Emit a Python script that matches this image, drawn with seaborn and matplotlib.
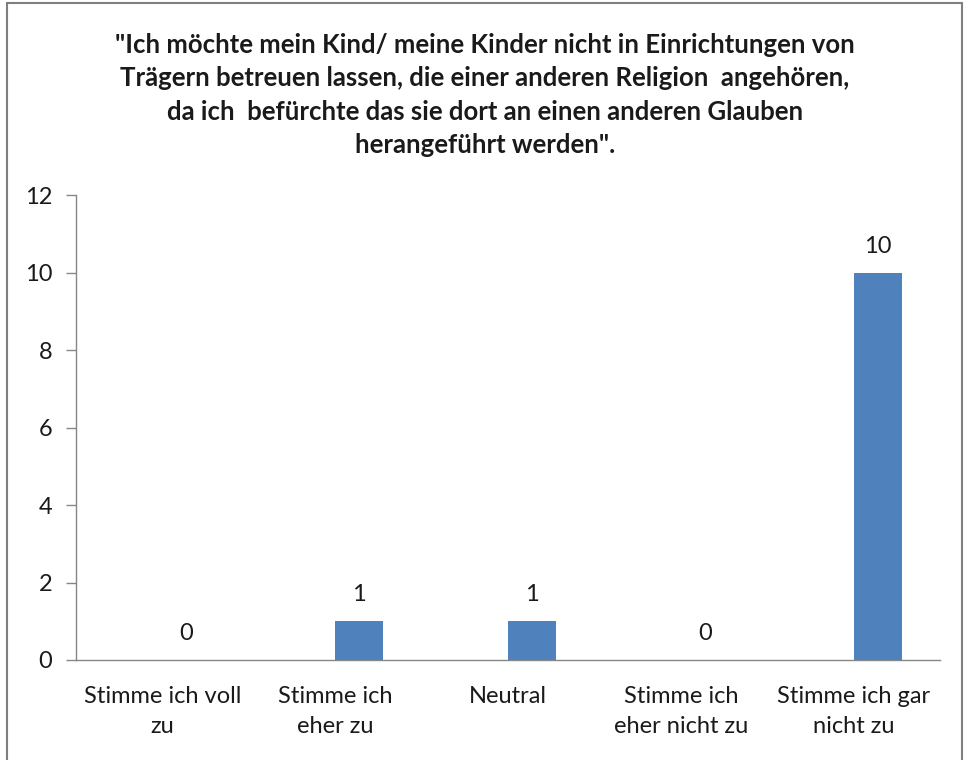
import matplotlib
matplotlib.use("Agg")
import matplotlib.pyplot as plt
import seaborn as sns
import numpy as np
from matplotlib.patches import Rectangle

categories = ["Stimme ich voll\nzu", "Stimme ich\neher zu", "Neutral",
              "Stimme ich\neher nicht zu", "Stimme ich gar\nnicht zu"]
values = [0, 1, 1, 0, 10]
yticks = [0, 2, 4, 6, 8, 10, 12]
title = ('"Ich möchte mein Kind/ meine Kinder nicht in Einrichtungen von\n'
         'Trägern betreuen lassen, die einer anderen Religion  angehören,\n'
         'da ich  befürchte das sie dort an einen anderen Glauben\n'
         'herangeführt werden".')

sns.set_style("white")
plt.rcParams['font.family'] = ['Lato', 'DejaVu Sans']

fig = plt.figure(figsize=(9.7, 7.6), dpi=100)
ax = fig.add_axes([76/970, 1-660/760, (940-76)/970, (660-195)/760])

bw = 48/173
sns.barplot(x=list(range(len(values))), y=values, color="#4F81BD", width=bw,
            saturation=1, ax=ax, native_scale=True, edgecolor="none")
for p in ax.patches:
    p.set_x(p.get_x() + bw/2)

for i, v in enumerate(values):
    ax.annotate(str(v), (i + bw/2, v), xytext=(0, 19), textcoords="offset points",
                ha="center", va="center", fontsize=17, color="#1a1a1a")

ax.set_xlim(-0.5, len(values)-0.5)
ax.set_ylim(0, 12)
ax.set_yticks(yticks)
ax.set_yticklabels([str(t) for t in yticks], fontsize=17, color="#1a1a1a")
ax.set_xticks(range(len(values)))
ax.set_xticklabels(categories, fontsize=17, color="#1a1a1a", linespacing=1.5)
ax.set_xticks(np.arange(-0.5, len(values)), minor=True)
ax.tick_params(axis="x", which="major", length=0, pad=19)
ax.tick_params(axis="x", which="minor", length=7, width=1, color="#868686", direction="out")
ax.tick_params(axis="y", length=7, width=1, color="#868686", direction="out", pad=10, left=True)
ax.set_xlabel("")
ax.set_ylabel("")

for s in ["top", "right"]:
    ax.spines[s].set_visible(False)
for s in ["left", "bottom"]:
    ax.spines[s].set_visible(True)
    ax.spines[s].set_color("#868686")
    ax.spines[s].set_linewidth(1)

fig.text(0.5, 1-95/760, title, ha="center", va="center", fontsize=18.5,
         fontweight="bold", color="#1a1a1a", linespacing=1.46)

fig.patches.append(Rectangle((7/970, -0.05), (962-7)/970, 1.05 - 3/760,
                             transform=fig.transFigure, fill=False,
                             edgecolor="#7f7f7f", linewidth=1.5))

fig.savefig("out.png", dpi=100)
